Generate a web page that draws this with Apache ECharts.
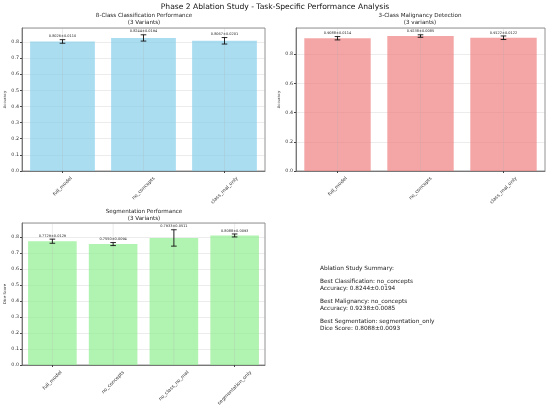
<!DOCTYPE html>
<html><head><meta charset="utf-8">
<script src="https://cdn.jsdelivr.net/npm/echarts@6/dist/echarts.min.js"></script>
<style>html,body{margin:0;padding:0;background:#fff}#c{width:550px;height:408px}</style>
</head><body><div id="c"></div>
<script>
const clsCats = ['full_model','no_concepts','class_mal_only'];
const clsVals = [0.8026, 0.8244, 0.8067];
const clsErrs = [0.0110, 0.0194, 0.0201];
const malCats = ['full_model','no_concepts','class_mal_only'];
const malVals = [0.9088, 0.9238, 0.9122];
const malErrs = [0.0114, 0.0085, 0.0122];
const segCats = ['full_model','no_concepts','no_class_no_mal','segmentation_only'];
const segVals = [0.7729, 0.7550, 0.7933, 0.8088];
const segErrs = [0.0129, 0.0094, 0.0511, 0.0093];
const summaryLines = [
  'Ablation Study Summary:', '',
  'Best Classification: no_concepts', 'Accuracy: 0.8244±0.0194', '',
  'Best Malignancy: no_concepts', 'Accuracy: 0.9238±0.0085', '',
  'Best Segmentation: segmentation_only', 'Dice Score: 0.8088±0.0093'
];

const FONT = 'DejaVu Sans';
const TICK_FS = 4.8;
const measureCtx = document.createElement('canvas').getContext('2d');
function textW(t, fs){ measureCtx.font = fs + 'px "' + FONT + '"'; return measureCtx.measureText(t).width; }

const chart = echarts.init(document.getElementById('c'), null, {renderer:'canvas'});
const topOf = (v, e) => Math.max(...v.map((x,i)=>x+e[i])) * 1.05;
const GRIDC = 'rgba(176,176,176,0.4)';

function xAxis(gi, cats){
  return {type:'category', gridIndex:gi, data:cats,
    axisLine:{show:true, lineStyle:{color:'#666', width:0.8}},
    axisTick:{show:true, alignWithLabel:true, length:2, lineStyle:{color:'#444'}},
    axisLabel:{show:false},
    splitLine:{show:false}};
}
function yAxis(gi, max, interval, name){
  return {type:'value', gridIndex:gi, min:0, max:max, interval:interval,
    name:name, nameLocation:'middle', nameRotate:90, nameGap:14,
    nameTextStyle:{fontSize:3.8, color:'#333', fontFamily:FONT},
    axisLine:{show:true, lineStyle:{color:'#666', width:0.8}},
    axisTick:{show:true, length:2, lineStyle:{color:'#444'}},
    axisLabel:{fontSize:TICK_FS, color:'#333', fontFamily:FONT, margin:3, showMaxLabel:false,
      formatter:v=>v.toFixed(1)},
    splitLine:{show:true, lineStyle:{color:GRIDC, width:0.6}}};
}
function bars(gi, vals, color){
  return {type:'bar', xAxisIndex:gi, yAxisIndex:gi, data:vals, barWidth:'80%',
    itemStyle:{color:color}, z:3};
}
function errs(gi, vals, es){
  return {type:'custom', xAxisIndex:gi, yAxisIndex:gi, z:5,
    data: vals.map((v,i)=>[i, v, es[i]]),
    renderItem:(params, api)=>{
      const i=api.value(0), v=api.value(1), e=api.value(2);
      const lo=api.coord([i, v-e]), hi=api.coord([i, v+e]);
      const cap=2.8;
      const st={stroke:'#111', lineWidth:0.9};
      return {type:'group', children:[
        {type:'line', shape:{x1:lo[0],y1:lo[1],x2:hi[0],y2:hi[1]}, style:st},
        {type:'line', shape:{x1:lo[0]-cap,y1:lo[1],x2:lo[0]+cap,y2:lo[1]}, style:st},
        {type:'line', shape:{x1:hi[0]-cap,y1:hi[1],x2:hi[0]+cap,y2:hi[1]}, style:st},
        {type:'text', style:{text:v.toFixed(4)+'±'+e.toFixed(4), x:hi[0], y:hi[1]-1.3,
          align:'center', verticalAlign:'bottom', fontSize:3.5, fill:'#222', fontFamily:FONT}}
      ]};
    }};
}
// category tick labels (matplotlib-style: rotated 45°, bbox centered under tick) + vertical grid lines
function xLabels(gi, cats){
  return {type:'custom', xAxisIndex:gi, yAxisIndex:gi, z:4, clip:false, silent:true,
    data: cats.map((c,i)=>[i, 0]),
    renderItem:(params, api)=>{
      const i=api.value(0);
      const p=api.coord([i, 0]);
      const cs=params.coordSys;
      const name=cats[i];
      const w=textW(name, TICK_FS);
      const H=(w+TICK_FS)*Math.SQRT1_2;
      return {type:'group', children:[
        {type:'line', shape:{x1:p[0],y1:cs.y,x2:p[0],y2:cs.y+cs.height}, style:{stroke:GRIDC, lineWidth:0.6}},
        {type:'text', x:p[0], y:cs.y+cs.height+5+H/2, rotation:Math.PI/4,
          style:{text:name, align:'center', verticalAlign:'middle', fontSize:TICK_FS, fill:'#333', fontFamily:FONT}}
      ]};
    }};
}
function subTitle(left, top, text){
  return {text:text, left:left, top:top, textAlign:'center', padding:0,
    textStyle:{fontSize:5.6, fontWeight:'normal', color:'#222', fontFamily:FONT, lineHeight:7}};
}

const gridStyle = {show:true, borderColor:'#777', borderWidth:0.8, backgroundColor:'transparent'};
chart.setOption({
  animation:false,
  title:[
    {text:'Phase 2 Ablation Study - Task-Specific Performance Analysis', left:275, top:3, textAlign:'center', padding:0,
      textStyle:{fontSize:7.6, fontWeight:'normal', color:'#111', fontFamily:FONT}},
    subTitle(144, 12.5, '8-Class Classification Performance\n(3 Variants)'),
    subTitle(420, 12.5, '3-Class Malignancy Detection\n(3 variants)'),
    subTitle(144, 208, 'Segmentation Performance\n(3 Variants)')
  ],
  grid:[
    Object.assign({left:22, top:28, width:243, height:143}, gridStyle),
    Object.assign({left:296, top:28, width:249, height:143}, gridStyle),
    Object.assign({left:22, top:223, width:243, height:142}, gridStyle)
  ],
  xAxis:[xAxis(0, clsCats), xAxis(1, malCats), xAxis(2, segCats)],
  yAxis:[yAxis(0, topOf(clsVals, clsErrs), 0.1, 'Accuracy'),
         yAxis(1, topOf(malVals, malErrs), 0.2, 'Accuracy'),
         yAxis(2, topOf(segVals, segErrs), 0.1, 'Dice Score')],
  series:[
    bars(0, clsVals, 'rgba(135,206,235,0.7)'), errs(0, clsVals, clsErrs), xLabels(0, clsCats),
    bars(1, malVals, 'rgba(240,128,128,0.7)'), errs(1, malVals, malErrs), xLabels(1, malCats),
    bars(2, segVals, 'rgba(144,238,144,0.7)'), errs(2, segVals, segErrs), xLabels(2, segCats)
  ],
  graphic:[{type:'text', left:320, top:265,
    style:{text:summaryLines.join('\n'), fontSize:5.8, lineHeight:6.7, fill:'#222', fontFamily:FONT}}]
});
</script></body></html>
